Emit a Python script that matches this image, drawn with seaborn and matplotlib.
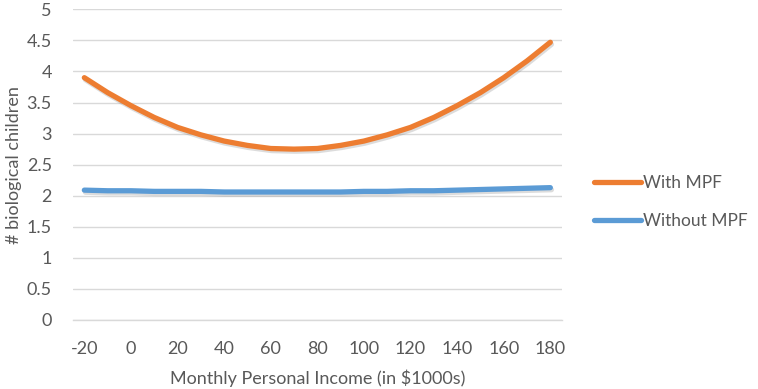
import pandas as pd
import matplotlib.pyplot as plt
import matplotlib.patheffects as pe
import seaborn as sns

income = [-20, -10, 0, 10, 20, 30, 40, 50, 60, 70, 80, 90, 100, 110, 120, 130, 140, 150, 160, 170, 180]
with_mpf = [3.90, 3.66, 3.45, 3.26, 3.10, 2.98, 2.88, 2.81, 2.76, 2.75, 2.76,
            2.81, 2.88, 2.98, 3.10, 3.26, 3.45, 3.66, 3.90, 4.17, 4.47]
without_mpf = [2.09, 2.08, 2.08, 2.07, 2.07, 2.07, 2.06, 2.06, 2.06, 2.06, 2.06,
               2.06, 2.07, 2.07, 2.08, 2.08, 2.09, 2.10, 2.11, 2.12, 2.13]
series = ["With MPF", "Without MPF"]
colors = ["#ED7D31", "#5B9BD5"]

df = pd.concat([
    pd.DataFrame({"income": income, "children": with_mpf, "series": series[0]}),
    pd.DataFrame({"income": income, "children": without_mpf, "series": series[1]}),
])

sns.set_style("white")
plt.rcParams["font.family"] = ["Lato", "DejaVu Sans"]
plt.rcParams["axes.unicode_minus"] = False
text_col = "#595959"
grid_col = "#d9d9d9"

fig = plt.figure(figsize=(7.58, 3.89), dpi=100)
ax = fig.add_axes([0.0959, 0.1774, 0.6455, 0.7986])

sns.lineplot(data=df, x="income", y="children", hue="series", palette=colors,
             linewidth=3.8, ax=ax, legend=False)
for ln in ax.get_lines():
    ln.set_solid_capstyle("round")
    ln.set_solid_joinstyle("round")
    ln.set_path_effects([pe.SimpleLineShadow(offset=(0.8, -1.5), shadow_color="#777777", alpha=0.25),
                         pe.Normal()])

ax.set_xlim(-25, 185)
ax.set_ylim(0, 5)
ax.set_yticks([i * 0.5 for i in range(11)])
ax.set_yticklabels(["0", "0.5", "1", "1.5", "2", "2.5", "3", "3.5", "4", "4.5", "5"])
ax.set_xticks(list(range(-20, 181, 20)))
ax.set_xticks(list(range(-25, 186, 10)), minor=True)
ax.tick_params(axis="x", which="major", length=0, pad=15, labelsize=13, labelcolor=text_col)
ax.tick_params(axis="x", which="minor", length=5, width=1, color=grid_col)
ax.tick_params(axis="y", length=0, pad=15, labelsize=13, labelcolor=text_col)
ax.yaxis.grid(True, color=grid_col, linewidth=1)
ax.set_axisbelow(True)
for s in ["top", "right", "left"]:
    ax.spines[s].set_visible(False)
ax.spines["bottom"].set_color(grid_col)
ax.spines["bottom"].set_linewidth(1)

ax.set_xlabel("Monthly Personal Income (in $1000s)", fontsize=13, color=text_col, labelpad=9)
ax.set_ylabel("# biological children", fontsize=13, color=text_col)
ax.yaxis.set_label_coords(-0.104, 0.5)

handles = [plt.Line2D([], [], color=c, linewidth=3.8, solid_capstyle="round") for c in colors]
fig.legend(handles, series, loc="center left", bbox_to_anchor=(0.784, 0.48), frameon=False,
           fontsize=12.5, labelcolor=text_col, handlelength=2.7, handletextpad=0.12,
           labelspacing=1.25, borderpad=0, borderaxespad=0)

fig.savefig("out.png", dpi=100)
